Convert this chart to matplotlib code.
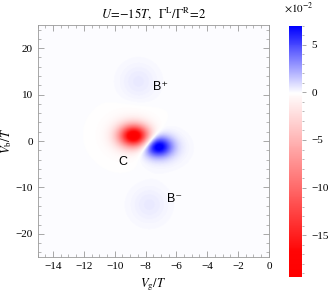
import numpy as np
import matplotlib
matplotlib.use("Agg")
import matplotlib.pyplot as plt
from matplotlib.colors import LinearSegmentedColormap, Normalize
from matplotlib.ticker import MultipleLocator

plt.rcParams['font.family'] = ['Liberation Serif', 'DejaVu Serif']
plt.rcParams['mathtext.fontset'] = 'stix'
plt.rcParams['font.size'] = 8

# Blob parameters of the current map (values in units of 1e-2)
# core red, core blue, B+, B-, red halo, blue halo
blob_x = [-8.8, -7.25, -8.5, -7.8, -9.0, -7.0]
blob_y = [1.0, -1.3, 12.7, -13.8, 1.2, -1.6]
blob_amp = [-18.5, 7.2, 0.55, 0.55, -1.5, 0.8]
blob_sx = [0.65, 0.62, 0.85, 0.85, 1.0, 1.0]
blob_sy = [1.6, 1.5, 2.8, 2.8, 2.8, 2.5]

# Peak labels
label_text = ["C", "B\u207a", "B\u207b"]
label_x = [-9.45, -7.05, -6.1]
label_y = [-4.5, 11.6, -12.5]

vmin, vmax = -19.4, 7.0

# Build the field on a grid
xs = np.linspace(-15, 0, 400)
ys = np.linspace(-25, 25, 400)
X, Y = np.meshgrid(xs, ys)
Z = np.zeros_like(X)
for cx, cy, a, sx, sy in zip(blob_x, blob_y, blob_amp, blob_sx, blob_sy):
    Z += a * np.exp(-0.5 * ((X - cx) / sx) ** 2 - 0.5 * ((Y - cy) / sy) ** 2)

# red -> white (at 0) -> blue
w = (0 - vmin) / (vmax - vmin)
cmap = LinearSegmentedColormap.from_list(
    "rwb", [(0.0, (1, 0, 0)), (0.1, (1, 0.02, 0.02)), (w, (1, 1, 1)), (1.0, (0, 0, 1))])
norm = Normalize(vmin=vmin, vmax=vmax)

fig = plt.figure(figsize=(3.32, 3.01), dpi=100)
ax = fig.add_axes([0.113, 0.146, 0.697, 0.771])
ax.imshow(Z, extent=(-15, 0, -25, 25), origin='lower', aspect='auto',
          cmap=cmap, norm=norm, interpolation='bilinear')

for t, x, y in zip(label_text, label_x, label_y):
    ax.text(x, y, t, ha='center', va='center', fontsize=9,
            family=['Liberation Sans', 'DejaVu Sans'])

ax.set_xlim(-15, 0)
ax.set_ylim(-25, 25)
ax.xaxis.set_major_locator(MultipleLocator(2))
ax.xaxis.set_minor_locator(MultipleLocator(0.5))
ax.yaxis.set_major_locator(MultipleLocator(10))
ax.yaxis.set_minor_locator(MultipleLocator(2))
ax.tick_params(which='both', direction='in', top=True, right=True, color='#999999',
               labelsize=8)
ax.tick_params(which='major', length=4, width=0.6)
ax.tick_params(which='minor', length=2, width=0.5)
for s in ax.spines.values():
    s.set_color('#999999')
    s.set_linewidth(0.6)

ax.set_xlabel(r"$V_{\rm g}/T$", fontsize=9, labelpad=4)
ax.set_ylabel(r"$V_{\rm b}/T$", fontsize=9)
ax.yaxis.set_label_coords(-0.1, 0.5)
ax.set_title(r"$U\!=\!{-}15T,\ \ \Gamma^{\rm L}/\Gamma^{\rm R}\!=\!2$", fontsize=9, pad=5)

cax = fig.add_axes([0.870, 0.080, 0.040, 0.834])
cb = fig.colorbar(plt.cm.ScalarMappable(norm=norm, cmap=cmap), cax=cax)
cb.outline.set_visible(False)
cb.set_ticks([-15, -10, -5, 0, 5])
cb.ax.yaxis.set_minor_locator(MultipleLocator(1))
cb.ax.tick_params(which='both', color='#999999', labelsize=8)
cb.ax.tick_params(which='major', length=3, width=0.6)
cb.ax.tick_params(which='minor', length=1.5, width=0.5)
fig.text(0.90, 0.975, r"$\times10^{-2}$", ha='center', va='center', fontsize=8)

fig.savefig("out.png", dpi=100)
